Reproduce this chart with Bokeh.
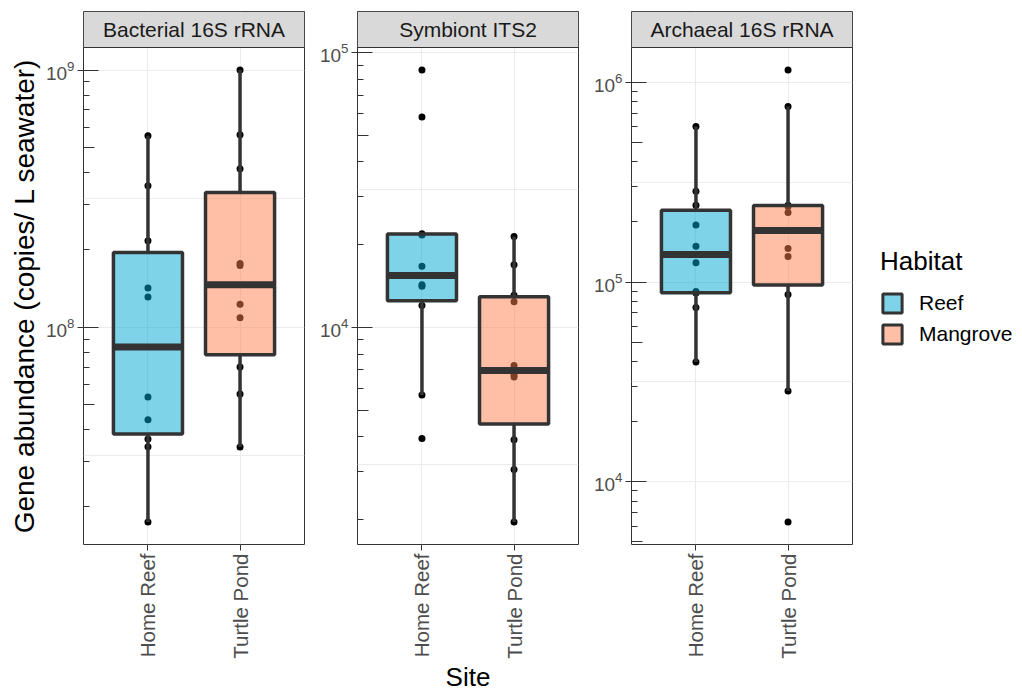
import math
import numpy as np
from bokeh.plotting import figure
from bokeh.models import (FactorRange, Range1d, LogAxis, FixedTicker, Legend, LegendItem,
                          ColumnDataSource, CustomJSTickFormatter, BoxAnnotation, Title)
from bokeh.layouts import row
from bokeh.embed import file_html
from bokeh.resources import INLINE
from bokeh.core.properties import value

# ---------------- data ----------------
sites = ["Home Reef", "Turtle Pond"]
habitats = ["Reef", "Mangrove"]
panel_titles = ["Bacterial 16S rRNA", "Symbiont ITS2", "Archaeal 16S rRNA"]

bact_reef = [1.75e7, 3.43e7, 3.68e7, 4.37e7, 5.35e7, 1.31e8, 1.42e8, 2.17e8, 3.55e8, 5.55e8]
bact_mangrove = [3.42e7, 5.5e7, 7.0e7, 1.09e8, 1.23e8, 1.74e8, 1.77e8, 4.13e8, 5.6e8, 1.0e9]

sym_reef = [3.94e3, 5.67e3, 1.2e4, 1.41e4, 1.43e4, 1.67e4, 2.17e4, 2.19e4, 5.82e4, 8.63e4]
sym_mangrove = [1.96e3, 3.04e3, 3.9e3, 6.6e3, 6.7e3, 7.26e3, 1.24e4, 1.31e4, 1.69e4, 2.14e4]

arch_reef = [3.98e4, 7.45e4, 8.8e4, 8.96e4, 1.25e5, 1.51e5, 1.93e5, 2.42e5, 2.85e5, 6.0e5]
arch_mangrove = [6.3e3, 2.85e4, 8.66e4, 1.34e5, 1.47e5, 2.23e5, 2.39e5, 2.42e5, 7.56e5, 1.15e6]

y_title = "Gene abundance (copies/ L seawater)"
x_title = "Site"

# ---------------- styling / layout ----------------
FONT = "Liberation Sans"
REEF_COL = "#00A8D4"
MANG_COL = "#FF7F50"
DARK = "#333333"
GRID = "#EBEBEB"
FRAME_W = 221
PANEL_H = 497     # data area height
STRIP_H = 36      # facet strip height (top of the frame)
TOP = 11
BOTTOM = 147
FIG_H = TOP + STRIP_H + PANEL_H + BOTTOM


def box_stats(vals):
    lv = np.log10(np.asarray(vals, dtype=float))
    q1, med, q3 = np.percentile(lv, [25, 50, 75])
    iqr = q3 - q1
    lo_w = lv[lv >= q1 - 1.5 * iqr].min()
    hi_w = lv[lv <= q3 + 1.5 * iqr].max()
    return 10 ** q1, 10 ** med, 10 ** q3, 10 ** lo_w, 10 ** hi_w


def make_panel(title, reef_vals, mang_vals, left_border, ylabel=None, xlabel=None):
    allv = np.log10(np.array(reef_vals + mang_vals, dtype=float))
    lo, hi = allv.min(), allv.max()
    pad = 0.05 * (hi - lo)
    lo_end, hi_end = lo - pad, hi + pad
    strip_dec = (hi_end - lo_end) * STRIP_H / PANEL_H
    y_rng = Range1d(10 ** lo_end, 10 ** (hi_end + strip_dec))
    x_rng = FactorRange(*sites, range_padding=0.2, range_padding_units="absolute")

    p = figure(frame_width=FRAME_W, frame_height=STRIP_H + PANEL_H,
               x_range=x_rng, y_range=y_rng,
               y_axis_type="log", y_axis_location=None,
               output_backend="svg", toolbar_location=None,
               min_border_left=left_border, min_border_right=1,
               min_border_top=TOP, min_border_bottom=BOTTOM,
               background_fill_color="white", border_fill_color="white",
               outline_line_color=DARK, outline_line_width=1)

    k0, k1 = int(np.floor(lo_end)), int(np.ceil(hi_end))
    keep = lambda vs: [v for v in vs if np.log10(v) <= hi_end]
    majors = keep([10.0 ** k for k in range(k0, k1 + 1)])
    mids = keep([5 * 10.0 ** k for k in range(k0 - 1, k1 + 1)])
    minors = keep([m * 10.0 ** k for k in range(k0 - 1, k1 + 1) for m in (2, 3, 4, 6, 7, 8, 9)])
    halves = keep([10.0 ** (k + 0.5) for k in range(k0 - 1, k1 + 1)])

    # grid
    p.ygrid.ticker = FixedTicker(ticks=majors, minor_ticks=halves)
    p.ygrid.grid_line_color = GRID
    p.ygrid.grid_line_width = 1
    p.ygrid.minor_grid_line_color = GRID
    p.ygrid.minor_grid_line_width = 1
    p.xgrid.grid_line_color = GRID
    p.xgrid.grid_line_width = 1

    # facet strip across the top of the frame
    p.add_layout(BoxAnnotation(bottom=10 ** hi_end, fill_color="#D9D9D9", fill_alpha=1.0,
                               line_color=DARK, line_width=1, line_alpha=1.0,
                               level="underlay"))
    p.text(x=[(sites[0], 0.5)], y=[10 ** (hi_end + strip_dec / 2)], text=[title],
           text_align="center", text_baseline="middle", text_font=value(FONT),
           text_font_size="21px", text_color="#1A1A1A")

    # mid log ticks (5 x 10^k), inside the panel
    mid_axis = LogAxis(ticker=FixedTicker(ticks=mids),
                       formatter=CustomJSTickFormatter(code="return ''"),
                       major_tick_in=11, major_tick_out=0,
                       major_tick_line_color=DARK, major_tick_line_width=1,
                       minor_tick_line_color=None, axis_line_color=None,
                       major_label_standoff=0)
    p.add_layout(mid_axis, "left")

    main_axis = LogAxis(ticker=FixedTicker(ticks=majors, minor_ticks=minors),
                        major_tick_in=15, major_tick_out=6,
                        minor_tick_in=6, minor_tick_out=0,
                        major_tick_line_color=DARK, minor_tick_line_color=DARK,
                        major_tick_line_width=1, minor_tick_line_width=1,
                        axis_line_color=None,
                        major_label_text_font=FONT, major_label_text_font_size="19px",
                        major_label_text_color="#4D4D4D", major_label_standoff=3)
    p.add_layout(main_axis, "left")

    if ylabel:
        # centred on the data area (below the strip), like the reference
        text_w = 16.95 * 28
        p.add_layout(Title(text=ylabel, align="left", offset=(PANEL_H - text_w) / 2,
                           text_font=FONT, text_font_size="28px", text_font_style="normal",
                           text_color="black", standoff=6), "left")

    xa = p.xaxis[0]
    xa.axis_line_color = None
    xa.major_tick_in = 0
    xa.major_tick_out = 6
    xa.major_tick_line_color = DARK
    xa.major_label_orientation = math.pi / 2
    xa.major_label_text_font = FONT
    xa.major_label_text_font_size = "20.5px"
    xa.major_label_text_color = "#4D4D4D"
    xa.major_label_standoff = 3
    if xlabel:
        xa.axis_label = xlabel
        xa.axis_label_text_font = FONT
        xa.axis_label_text_font_size = "26px"
        xa.axis_label_text_font_style = "normal"
        xa.axis_label_text_color = "black"
        xa.axis_label_standoff = 0

    # raw points (drawn first, under the translucent boxes)
    px = [sites[0]] * len(reef_vals) + [sites[1]] * len(mang_vals)
    py = list(reef_vals) + list(mang_vals)
    p.scatter(x=px, y=py, size=7, fill_color="black", line_color=None)

    # box statistics
    stats = [box_stats(reef_vals), box_stats(mang_vals)]
    src = ColumnDataSource(dict(
        site=sites,
        q1=[s[0] for s in stats], med=[s[1] for s in stats], q3=[s[2] for s in stats],
        lo=[s[3] for s in stats], hi=[s[4] for s in stats],
        fill=[REEF_COL, MANG_COL]))

    p.segment(x0="site", y0="q3", x1="site", y1="hi", source=src,
              line_color=DARK, line_width=3.5)
    p.segment(x0="site", y0="q1", x1="site", y1="lo", source=src,
              line_color=DARK, line_width=3.5)
    p.vbar(x="site", top="q3", bottom="q1", width=0.75, source=src,
           fill_color="fill", fill_alpha=0.5, line_color=DARK, line_width=3.5)
    p.rect(x="site", y="med", width=0.75, height=7, height_units="screen", source=src,
           fill_color=DARK, line_color=None)
    return p


p1 = make_panel(panel_titles[0], bact_reef, bact_mangrove, 83, ylabel=y_title)
p2 = make_panel(panel_titles[1], sym_reef, sym_mangrove, 52, xlabel=x_title)
p3 = make_panel(panel_titles[2], arch_reef, arch_mangrove, 52)

# legend panel (key renderers carry no drawable data)
lf = figure(frame_width=169, frame_height=STRIP_H + PANEL_H,
            x_range=Range1d(0, 1), y_range=Range1d(0, 1),
            x_axis_location=None, y_axis_location=None,
            output_backend="svg", toolbar_location=None,
            min_border_left=0, min_border_right=0,
            min_border_top=TOP, min_border_bottom=BOTTOM,
            outline_line_color=None, background_fill_color="white", border_fill_color="white")
lf.grid.visible = False
key_src = ColumnDataSource(dict(x=[float("nan")], top=[float("nan")], bottom=[float("nan")]))
r_reef = lf.vbar(x="x", top="top", bottom="bottom", width=0.5, source=key_src,
                 fill_color=REEF_COL, fill_alpha=0.5, line_color=DARK, line_width=3)
r_mang = lf.vbar(x="x", top="top", bottom="bottom", width=0.5, source=key_src,
                 fill_color=MANG_COL, fill_alpha=0.5, line_color=DARK, line_width=3)
legend = Legend(items=[LegendItem(label=habitats[0], renderers=[r_reef]),
                       LegendItem(label=habitats[1], renderers=[r_mang])],
                title="Habitat", location=(27, 198),
                title_text_font=FONT, title_text_font_size="26px", title_text_font_style="normal",
                title_text_color="black", title_standoff=14,
                label_text_font=FONT, label_text_font_size="21px", label_text_color="black",
                glyph_width=24, glyph_height=24, label_height=24, label_standoff=15,
                spacing=7, margin=0, padding=8,
                background_fill_alpha=0, border_line_color=None)
lf.add_layout(legend)

layout = row(p1, p2, p3, lf, spacing=0)

open("out.html", "w").write(file_html(layout, INLINE))
